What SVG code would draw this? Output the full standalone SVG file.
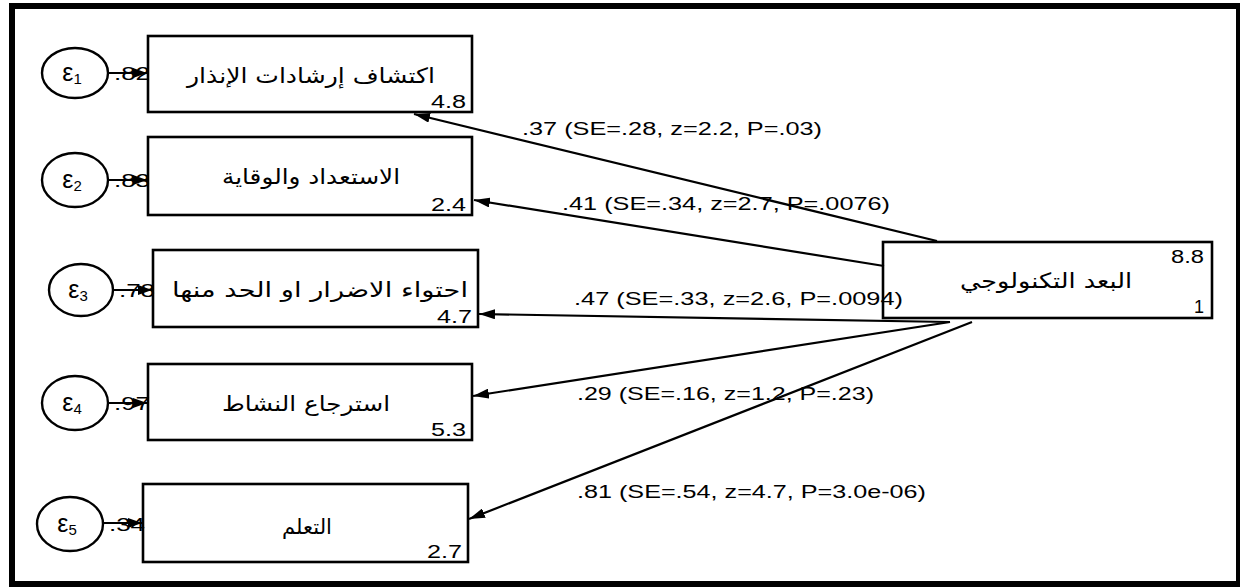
<svg xmlns="http://www.w3.org/2000/svg" width="1240" height="588" viewBox="0 0 1240 588">
  <style>
    .frame { fill: #fff; stroke: #000; stroke-width: 6; }
    .box { fill: #fff; stroke: #000; stroke-width: 2.6; }
    .err { fill: #fff; stroke: #000; stroke-width: 2.4; }
    .line { fill: none; stroke: #000; stroke-width: 2.2; }
    .lbl { font-family: "Liberation Sans", Arial, sans-serif; font-size: 18px; fill: #000; }
    .num { font-family: "Liberation Sans", Arial, sans-serif; font-size: 18px; fill: #000; text-anchor: end; }
    .ar { font-family: "DejaVu Sans", "Liberation Sans", sans-serif; font-size: 21px; fill: #000; text-anchor: middle; direction: rtl; }
    .eps { font-family: "Liberation Sans", Arial, sans-serif; font-size: 25px; fill: #000; text-anchor: middle; }
    .var { font-family: "Liberation Sans", Arial, sans-serif; font-size: 18px; fill: #000; }
  </style>
  <defs>
    <marker id="arr" viewBox="0 0 16 10" refX="16" refY="5" markerWidth="16" markerHeight="10" markerUnits="userSpaceOnUse" orient="auto">
      <path d="M0,0 L16,5 L0,10 Z" fill="#000"/>
    </marker>
    <marker id="arrS" viewBox="0 0 14 12" refX="14" refY="6" markerWidth="14" markerHeight="12" markerUnits="userSpaceOnUse" orient="auto">
      <path d="M0,1 L14,6 L0,11 Z" fill="#000"/>
    </marker>
  </defs>

  <rect class="frame" x="12" y="6" width="1227" height="578"/>

  <!-- error terms -->
  <g id="e1">
    <ellipse class="err" cx="75" cy="73" rx="33" ry="25"/>
    <text class="eps" x="72" y="81">ε<tspan font-size="15" dy="3">1</tspan></text>
  </g>
  <g id="e2">
    <ellipse class="err" cx="75" cy="180" rx="33" ry="27"/>
    <text class="eps" x="72" y="188">ε<tspan font-size="15" dy="3">2</tspan></text>
  </g>
  <g id="e3">
    <ellipse class="err" cx="81" cy="290" rx="32" ry="26"/>
    <text class="eps" x="78" y="298">ε<tspan font-size="15" dy="3">3</tspan></text>
  </g>
  <g id="e4">
    <ellipse class="err" cx="75" cy="403" rx="33" ry="27"/>
    <text class="eps" x="72" y="411">ε<tspan font-size="15" dy="3">4</tspan></text>
  </g>
  <g id="e5">
    <ellipse class="err" cx="70" cy="524" rx="33" ry="27"/>
    <text class="eps" x="67" y="532">ε<tspan font-size="15" dy="3">5</tspan></text>
  </g>

  <!-- observed indicators -->
  <g id="n1">
    <rect class="box" x="148" y="36" width="324" height="76"/>
    <text class="ar" x="311" y="83" textLength="248" lengthAdjust="spacingAndGlyphs">اكتشاف إرشادات الإنذار</text>
    <text class="num" x="466" y="108" textLength="35" lengthAdjust="spacingAndGlyphs">4.8</text>
  </g>
  <g id="n2">
    <rect class="box" x="148" y="137" width="324" height="78"/>
    <text class="ar" x="311" y="184" textLength="178" lengthAdjust="spacingAndGlyphs">الاستعداد والوقاية</text>
    <text class="num" x="466" y="211" textLength="35" lengthAdjust="spacingAndGlyphs">2.4</text>
  </g>
  <g id="n3">
    <rect class="box" x="153" y="250" width="325" height="77"/>
    <text class="ar" x="320" y="297" textLength="296" lengthAdjust="spacingAndGlyphs">احتواء الاضرار او الحد منها</text>
    <text class="num" x="472" y="323" textLength="35" lengthAdjust="spacingAndGlyphs">4.7</text>
  </g>
  <g id="n4">
    <rect class="box" x="148" y="364" width="324" height="76"/>
    <text class="ar" x="306" y="411" textLength="168" lengthAdjust="spacingAndGlyphs">استرجاع النشاط</text>
    <text class="num" x="466" y="436" textLength="35" lengthAdjust="spacingAndGlyphs">5.3</text>
  </g>
  <g id="n5">
    <rect class="box" x="143" y="484" width="325" height="78"/>
    <text class="ar" x="307" y="534" textLength="50" lengthAdjust="spacingAndGlyphs">التعلم</text>
    <text class="num" x="462" y="558" textLength="35" lengthAdjust="spacingAndGlyphs">2.7</text>
  </g>

  <!-- latent factor -->
  <g id="factor">
    <rect class="box" x="883" y="242" width="329" height="76"/>
    <text class="ar" x="1046" y="288" textLength="172" lengthAdjust="spacingAndGlyphs">البعد التكنولوجي</text>
    <text class="num" x="1204" y="263" textLength="33" lengthAdjust="spacingAndGlyphs">8.8</text>
    <text class="num" x="1204" y="313">1</text>
  </g>

  <!-- paths and their estimates -->
  <g id="connectors">
    <text class="var" x="114" y="80" textLength="36" lengthAdjust="spacingAndGlyphs">.82</text>
    <text class="var" x="114" y="187" textLength="36" lengthAdjust="spacingAndGlyphs">.83</text>
    <text class="var" x="119" y="297" textLength="36" lengthAdjust="spacingAndGlyphs">.78</text>
    <text class="var" x="114" y="410" textLength="36" lengthAdjust="spacingAndGlyphs">.97</text>
    <text class="var" x="109" y="531" textLength="36" lengthAdjust="spacingAndGlyphs">.34</text>

    <line class="line" x1="108" y1="73" x2="147" y2="73" marker-end="url(#arrS)"/>
    <line class="line" x1="108" y1="180" x2="147" y2="180" marker-end="url(#arrS)"/>
    <line class="line" x1="113" y1="290" x2="152" y2="290" marker-end="url(#arrS)"/>
    <line class="line" x1="108" y1="403" x2="147" y2="403" marker-end="url(#arrS)"/>
    <line class="line" x1="103" y1="523" x2="142" y2="523" marker-end="url(#arrS)"/>

    <line class="line" x1="937" y1="241" x2="414" y2="114" marker-end="url(#arr)"/>
    <line class="line" x1="884" y1="266" x2="474" y2="200" marker-end="url(#arr)"/>
    <line class="line" x1="950" y1="322" x2="479" y2="314" marker-end="url(#arr)"/>
    <line class="line" x1="950" y1="322" x2="473" y2="396" marker-end="url(#arr)"/>
    <line class="line" x1="972" y1="322" x2="469" y2="519" marker-end="url(#arr)"/>

    <text class="lbl" x="522" y="135" textLength="300" lengthAdjust="spacingAndGlyphs">.37 (SE=.28, z=2.2, P=.03)</text>
    <text class="lbl" x="562" y="210" textLength="328" lengthAdjust="spacingAndGlyphs">.41 (SE=.34, z=2.7, P=.0076)</text>
    <text class="lbl" x="574" y="305" textLength="329" lengthAdjust="spacingAndGlyphs">.47 (SE=.33, z=2.6, P=.0094)</text>
    <text class="lbl" x="577" y="400" textLength="297" lengthAdjust="spacingAndGlyphs">.29 (SE=.16, z=1.2, P=.23)</text>
    <text class="lbl" x="577" y="498" textLength="349" lengthAdjust="spacingAndGlyphs">.81 (SE=.54, z=4.7, P=3.0e-06)</text>
  </g>
</svg>
